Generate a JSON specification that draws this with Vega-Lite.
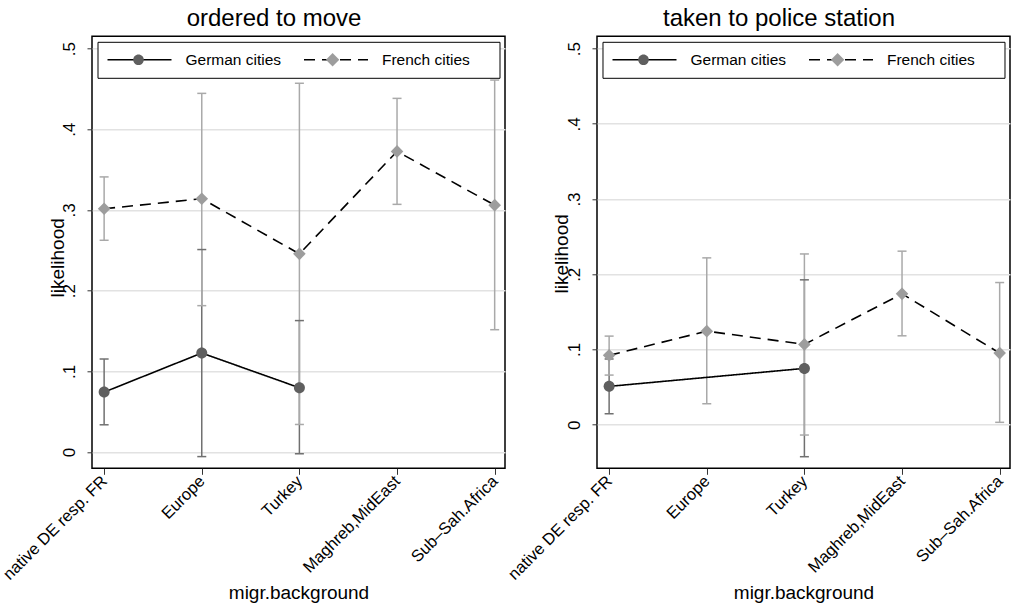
{
  "$schema": "https://vega.github.io/schema/vega-lite/v6.json",
  "padding": {"left": -1, "top": 6.3, "right": 0, "bottom": 0},
  "background": "white",
  "bounds": "flush",
  "spacing": 92,
  "config": {
    "font": "Liberation Sans",
    "view": {"stroke": "black", "strokeWidth": 1.5},
    "axis": {"labelFont": "Liberation Sans", "titleFont": "Liberation Sans", "labelColor": "black", "titleColor": "black", "titleFontWeight": "normal", "domain": false, "tickColor": "#333333", "gridColor": "#e2e2e2", "gridWidth": 1.5},
    "title": {"font": "Liberation Sans", "fontSize": 24, "fontWeight": "normal", "color": "black", "anchor": "middle", "baseline": "alphabetic", "offset": 5, "dx": -24.5}
  },
  "resolve": {
    "scale": {"strokeDash": "independent", "fill": "independent", "shape": "independent", "stroke": "independent", "size": "independent", "y": "independent"},
    "legend": {"strokeDash": "independent", "fill": "independent", "shape": "independent"}
  },
  "hconcat": [
    {
      "title": "ordered to move",
      "width": 413,
      "height": 432,
      "data": {"values": [
        {"bg": "native DE resp. FR", "k": 0, "series": "German cities", "est": 0.0744, "lo": 0.0339, "hi": 0.1154},
        {"bg": "Europe", "k": 1, "series": "German cities", "est": 0.1228, "lo": -0.0055, "hi": 0.251},
        {"bg": "Turkey", "k": 2, "series": "German cities", "est": 0.0798, "lo": -0.002, "hi": 0.163},
        {"bg": "native DE resp. FR", "k": 0, "series": "French cities", "est": 0.3015, "lo": 0.2625, "hi": 0.341},
        {"bg": "Europe", "k": 1, "series": "French cities", "est": 0.314, "lo": 0.1815, "hi": 0.4445},
        {"bg": "Turkey", "k": 2, "series": "French cities", "est": 0.2457, "lo": 0.0343, "hi": 0.457},
        {"bg": "Maghreb,MidEast", "k": 3, "series": "French cities", "est": 0.3726, "lo": 0.307, "hi": 0.4383},
        {"bg": "Sub–Sah.Africa", "k": 4, "series": "French cities", "est": 0.306, "lo": 0.1517, "hi": 0.461}
      ]},
      "encoding": {
        "x": {"field": "bg", "type": "ordinal", "sort": ["native DE resp. FR", "Europe", "Turkey", "Maghreb,MidEast", "Sub–Sah.Africa"],
          "scale": {"type": "point", "padding": 0.115, "align": 0.54},
          "axis": {"title": "migr.background", "titleFontSize": 19, "titleY": 130.5, "titleBaseline": "alphabetic", "labelAngle": -45, "labelAlign": "right", "labelBaseline": "middle", "labelFontSize": 16.5, "labelPadding": 4, "tickSize": 6, "grid": false}}
      },
      "layer": [
        {
          "mark": {"type": "rule", "strokeWidth": 1.5},
          "encoding": {
            "y": {"field": "lo", "type": "quantitative", "title": "likelihood", "scale": {"domain": [-0.02, 0.5152], "nice": false, "zero": false},
              "axis": {"values": [0, 0.1, 0.2, 0.3, 0.4, 0.5], "labelExpr": "datum.value == 0 ? '0' : '.' + format(datum.value * 10, 'd')", "labelAngle": -90, "labelAlign": "center", "labelBaseline": "alphabetic", "labelPadding": 12.5, "labelFontSize": 17, "tickSize": 5, "grid": true, "title": "likelihood", "titleFontSize": 19, "titleAngle": -90, "titleX": -29, "titleY": 221, "titleAlign": "center", "titleBaseline": "alphabetic"}},
            "y2": {"field": "hi"},
            "stroke": {"field": "series", "type": "nominal", "sort": "ascending", "scale": {"range": ["#a9a9a9", "#707070"]}, "legend": null}
          }
        },
        {
          "mark": {"type": "rule", "strokeWidth": 1.5, "xOffset": -4.5, "x2Offset": 4.5},
          "encoding": {
            "x2": {"field": "bg"},
            "y": {"field": "lo", "type": "quantitative", "title": "likelihood", "scale": {"domain": [-0.02, 0.5152], "nice": false, "zero": false}},
            "stroke": {"field": "series", "type": "nominal", "sort": "ascending", "legend": null}
          }
        },
        {
          "mark": {"type": "rule", "strokeWidth": 1.5, "xOffset": -4.5, "x2Offset": 4.5},
          "encoding": {
            "x2": {"field": "bg"},
            "y": {"field": "hi", "type": "quantitative", "title": "likelihood", "scale": {"domain": [-0.02, 0.5152], "nice": false, "zero": false}},
            "stroke": {"field": "series", "type": "nominal", "sort": "ascending", "legend": null}
          }
        },
        {
          "mark": {"type": "line", "color": "black", "strokeWidth": 1.6},
          "encoding": {
            "y": {"field": "est", "type": "quantitative", "title": "likelihood", "scale": {"domain": [-0.02, 0.5152], "nice": false, "zero": false}},
            "order": {"field": "k", "type": "quantitative"},
            "strokeDash": {"field": "series", "type": "nominal", "scale": {"domain": ["German cities", "French cities"], "range": [[1, 0], [11, 7]]},
              "legend": {"title": ".", "titleOrient": "right", "titleFontSize": 8, "titlePadding": 18, "titleOpacity": 0, "orient": "none", "legendX": 5.5, "legendY": 5.5, "direction": "horizontal", "padding": 9, "fillColor": "white", "strokeColor": "black", "symbolSize": 4096, "symbolStrokeWidth": 1.6, "clipHeight": 18, "labelOffset": 13, "columnPadding": 21.5, "labelFontSize": 15.5, "labelFont": "Liberation Sans", "labelColor": "black", "zindex": 1}}
          }
        },
        {
          "mark": {"type": "point", "filled": true, "opacity": 1, "strokeWidth": 0},
          "encoding": {
            "y": {"field": "est", "type": "quantitative", "title": "likelihood", "scale": {"domain": [-0.02, 0.5152], "nice": false, "zero": false}},
            "size": {"field": "series", "type": "nominal", "sort": "ascending", "scale": {"range": [3600, 4400]}, "legend": null},
            "shape": {"field": "series", "type": "nominal", "sort": "descending", "scale": {"range": ["M-0.166,0A0.166,0.166,0,1,0,0.166,0A0.166,0.166,0,1,0,-0.166,0Z", "M-0.21,0L0,-0.21L0.21,0L0,0.21Z"]},
              "legend": {"title": null, "orient": "none", "legendX": 5.5, "legendY": 5.5, "direction": "horizontal", "padding": 9, "symbolSize": 4096, "symbolStrokeWidth": 0, "clipHeight": 18, "labelOffset": 0, "columnPadding": 130.1, "labelFontSize": 15.5, "labelFont": "Liberation Sans", "labelExpr": "''", "zindex": 2}},
            "fill": {"field": "series", "type": "nominal", "sort": "descending", "scale": {"range": ["#5f5f5f", "#9d9d9d"]},
              "legend": {"title": null, "orient": "none", "legendX": 5.5, "legendY": 5.5, "direction": "horizontal", "padding": 9, "symbolSize": 4096, "symbolStrokeWidth": 0, "clipHeight": 18, "labelOffset": 0, "columnPadding": 130.1, "labelFontSize": 15.5, "labelFont": "Liberation Sans", "labelExpr": "''", "zindex": 2}}
          }
        }
      ]
    },
    {
      "title": "taken to police station",
      "width": 413,
      "height": 432,
      "data": {"values": [
        {"bg": "native DE resp. FR", "k": 0, "series": "German cities", "est": 0.051, "lo": 0.0146, "hi": 0.0874},
        {"bg": "Turkey", "k": 2, "series": "German cities", "est": 0.0749, "lo": -0.0425, "hi": 0.1926},
        {"bg": "native DE resp. FR", "k": 0, "series": "French cities", "est": 0.0922, "lo": 0.066, "hi": 0.1178},
        {"bg": "Europe", "k": 1, "series": "French cities", "est": 0.1244, "lo": 0.0279, "hi": 0.2218},
        {"bg": "Turkey", "k": 2, "series": "French cities", "est": 0.1068, "lo": -0.0137, "hi": 0.227},
        {"bg": "Maghreb,MidEast", "k": 3, "series": "French cities", "est": 0.174, "lo": 0.1182, "hi": 0.2307},
        {"bg": "Sub–Sah.Africa", "k": 4, "series": "French cities", "est": 0.0952, "lo": 0.0032, "hi": 0.189}
      ]},
      "encoding": {
        "x": {"field": "bg", "type": "ordinal", "sort": ["native DE resp. FR", "Europe", "Turkey", "Maghreb,MidEast", "Sub–Sah.Africa"],
          "scale": {"type": "point", "padding": 0.115, "align": 0.54},
          "axis": {"title": "migr.background", "titleFontSize": 19, "titleY": 130.5, "titleBaseline": "alphabetic", "labelAngle": -45, "labelAlign": "right", "labelBaseline": "middle", "labelFontSize": 16.5, "labelPadding": 4, "tickSize": 6, "grid": false}}
      },
      "layer": [
        {
          "mark": {"type": "rule", "strokeWidth": 1.5},
          "encoding": {
            "y": {"field": "lo", "type": "quantitative", "title": "likelihood", "scale": {"domain": [-0.0579, 0.5163], "nice": false, "zero": false},
              "axis": {"values": [0, 0.1, 0.2, 0.3, 0.4, 0.5], "labelExpr": "datum.value == 0 ? '0' : '.' + format(datum.value * 10, 'd')", "labelAngle": -90, "labelAlign": "center", "labelBaseline": "alphabetic", "labelPadding": 12.5, "labelFontSize": 17, "tickSize": 5, "grid": true, "title": "likelihood", "titleFontSize": 19, "titleAngle": -90, "titleX": -29, "titleY": 217, "titleAlign": "center", "titleBaseline": "alphabetic"}},
            "y2": {"field": "hi"},
            "stroke": {"field": "series", "type": "nominal", "sort": "ascending", "scale": {"range": ["#a9a9a9", "#707070"]}, "legend": null}
          }
        },
        {
          "mark": {"type": "rule", "strokeWidth": 1.5, "xOffset": -4.5, "x2Offset": 4.5},
          "encoding": {
            "x2": {"field": "bg"},
            "y": {"field": "lo", "type": "quantitative", "title": "likelihood", "scale": {"domain": [-0.0579, 0.5163], "nice": false, "zero": false}},
            "stroke": {"field": "series", "type": "nominal", "sort": "ascending", "legend": null}
          }
        },
        {
          "mark": {"type": "rule", "strokeWidth": 1.5, "xOffset": -4.5, "x2Offset": 4.5},
          "encoding": {
            "x2": {"field": "bg"},
            "y": {"field": "hi", "type": "quantitative", "title": "likelihood", "scale": {"domain": [-0.0579, 0.5163], "nice": false, "zero": false}},
            "stroke": {"field": "series", "type": "nominal", "sort": "ascending", "legend": null}
          }
        },
        {
          "mark": {"type": "line", "color": "black", "strokeWidth": 1.6},
          "encoding": {
            "y": {"field": "est", "type": "quantitative", "title": "likelihood", "scale": {"domain": [-0.0579, 0.5163], "nice": false, "zero": false}},
            "order": {"field": "k", "type": "quantitative"},
            "strokeDash": {"field": "series", "type": "nominal", "scale": {"domain": ["German cities", "French cities"], "range": [[1, 0], [11, 7]]},
              "legend": {"title": ".", "titleOrient": "right", "titleFontSize": 8, "titlePadding": 18, "titleOpacity": 0, "orient": "none", "legendX": 5.5, "legendY": 5.5, "direction": "horizontal", "padding": 9, "fillColor": "white", "strokeColor": "black", "symbolSize": 4096, "symbolStrokeWidth": 1.6, "clipHeight": 18, "labelOffset": 13, "columnPadding": 21.5, "labelFontSize": 15.5, "labelFont": "Liberation Sans", "labelColor": "black", "zindex": 1}}
          }
        },
        {
          "mark": {"type": "point", "filled": true, "opacity": 1, "strokeWidth": 0},
          "encoding": {
            "y": {"field": "est", "type": "quantitative", "title": "likelihood", "scale": {"domain": [-0.0579, 0.5163], "nice": false, "zero": false}},
            "size": {"field": "series", "type": "nominal", "sort": "ascending", "scale": {"range": [3600, 4400]}, "legend": null},
            "shape": {"field": "series", "type": "nominal", "sort": "descending", "scale": {"range": ["M-0.166,0A0.166,0.166,0,1,0,0.166,0A0.166,0.166,0,1,0,-0.166,0Z", "M-0.21,0L0,-0.21L0.21,0L0,0.21Z"]},
              "legend": {"title": null, "orient": "none", "legendX": 5.5, "legendY": 5.5, "direction": "horizontal", "padding": 9, "symbolSize": 4096, "symbolStrokeWidth": 0, "clipHeight": 18, "labelOffset": 0, "columnPadding": 130.1, "labelFontSize": 15.5, "labelFont": "Liberation Sans", "labelExpr": "''", "zindex": 2}},
            "fill": {"field": "series", "type": "nominal", "sort": "descending", "scale": {"range": ["#5f5f5f", "#9d9d9d"]},
              "legend": {"title": null, "orient": "none", "legendX": 5.5, "legendY": 5.5, "direction": "horizontal", "padding": 9, "symbolSize": 4096, "symbolStrokeWidth": 0, "clipHeight": 18, "labelOffset": 0, "columnPadding": 130.1, "labelFontSize": 15.5, "labelFont": "Liberation Sans", "labelExpr": "''", "zindex": 2}}
          }
        }
      ]
    }
  ]
}
